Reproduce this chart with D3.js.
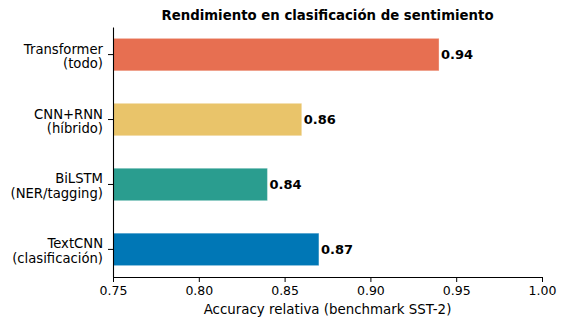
<!DOCTYPE html>
<html>
<head>
<meta charset="utf-8">
<script src="https://cdn.jsdelivr.net/npm/d3@7/dist/d3.min.js"></script>
<style>
  html, body { margin: 0; padding: 0; background: #fff; }
  svg { display: block; font-family: "DejaVu Sans", sans-serif; }
</style>
</head>
<body>
<svg id="chart" width="566" height="326"></svg>
<script>
// Models, top to bottom, with their relative accuracy on SST-2
const models = ["Transformer\n(todo)", "CNN+RNN\n(híbrido)", "BiLSTM\n(NER/tagging)", "TextCNN\n(clasificación)"];
const accuracy = [0.94, 0.86, 0.84, 0.87];
const barColors = ["#E76F51", "#E9C46A", "#2A9D8F", "#0077B6"];
const xTicks = [0.75, 0.80, 0.85, 0.90, 0.95, 1.00];

const titleText = "Rendimiento en clasificación de sentimiento";
const xLabelText = "Accuracy relativa (benchmark SST-2)";

const svg = d3.select("#chart");
const plot = { left: 113, right: 542, top: 27, bottom: 277 };

const x = d3.scaleLinear().domain([0.75, 1.00]).range([plot.left, plot.right]);
const y = d3.scaleBand()
  .domain(models)
  .range([plot.top, plot.bottom])
  .paddingInner(0.5)
  .paddingOuter(0.175);

// Bars
svg.append("g")
  .selectAll("rect")
  .data(models)
  .join("rect")
  .attr("x", x(0.75))
  .attr("y", d => y(d))
  .attr("width", (d, i) => x(accuracy[i]) - x(0.75))
  .attr("height", y.bandwidth())
  .attr("fill", (d, i) => barColors[i])
  .attr("stroke", "#ffffff")
  .attr("stroke-opacity", 0.35)
  .attr("stroke-width", 1);

// Value labels at the end of each bar
svg.append("g")
  .selectAll("text")
  .data(models)
  .join("text")
  .attr("x", (d, i) => x(accuracy[i]) + 2)
  .attr("y", d => y(d) + y.bandwidth() / 2 + 4.5)
  .attr("font-size", 13)
  .attr("font-weight", "bold")
  .attr("fill", "#000")
  .text((d, i) => accuracy[i].toFixed(2));

// X axis
const xAxis = svg.append("g")
  .attr("transform", `translate(0,${plot.bottom})`)
  .call(d3.axisBottom(x).tickValues(xTicks).tickFormat(d3.format(".2f")).tickSize(5).tickSizeOuter(0).tickPadding(4));
xAxis.select(".domain").attr("stroke", "#000").attr("stroke-width", 1.1);
xAxis.selectAll(".tick line").attr("stroke", "#000");
xAxis.selectAll(".tick text").attr("font-size", 12.5).attr("fill", "#000").attr("font-family", "DejaVu Sans");

// Y axis with two-line category labels
const yAxis = svg.append("g")
  .attr("transform", `translate(${plot.left},0)`)
  .call(d3.axisLeft(y).tickSize(5).tickSizeOuter(0).tickPadding(5));
yAxis.select(".domain").attr("stroke", "#000").attr("stroke-width", 1.1);
yAxis.selectAll(".tick line").attr("stroke", "#000");
yAxis.selectAll(".tick text").each(function(d) {
  const t = d3.select(this);
  const lines = d.split("\n");
  const xPos = t.attr("x");
  t.text(null).attr("dy", null).attr("y", null)
    .attr("font-size", 13.2).attr("fill", "#000").attr("font-family", "DejaVu Sans");
  lines.forEach((line, k) => {
    t.append("tspan").attr("x", xPos).attr("y", -1 + k * 14.5).text(line);
  });
});

// Title
svg.append("text")
  .attr("x", (plot.left + plot.right) / 2)
  .attr("y", 20)
  .attr("text-anchor", "middle")
  .attr("font-size", 13.3)
  .attr("font-weight", "bold")
  .attr("fill", "#000")
  .text(titleText);

// X axis label
svg.append("text")
  .attr("x", (plot.left + plot.right) / 2)
  .attr("y", 314)
  .attr("text-anchor", "middle")
  .attr("font-size", 13.4)
  .attr("fill", "#000")
  .text(xLabelText);
</script>
</body>
</html>
